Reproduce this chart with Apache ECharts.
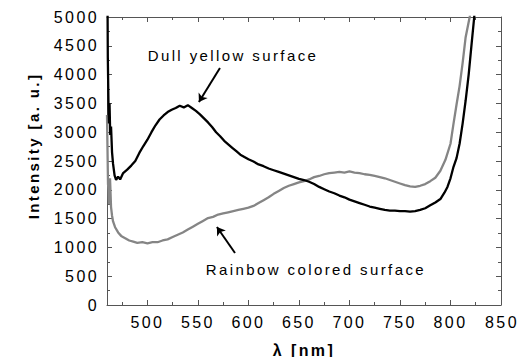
<!DOCTYPE html>
<html>
<head>
<meta charset="utf-8">
<script src="https://cdn.jsdelivr.net/npm/echarts@6/dist/echarts.min.js"></script>
<style>
html,body{margin:0;padding:0;background:#fff;}
#chart{width:521px;height:357px;}
#chart svg text{letter-spacing:2.4px;}
</style>
</head>
<body>
<div id="chart"></div>
<script>
// Wavelength (nm) / intensity (a.u.) pairs
const dullYellowLambda = [460.3,460.8,461.5,462,462.5,463.2,464,465,466,467.5,469,471,473,476,480,484,488,492,496,500,504,508,512,516,520,524,528,532,536,540,544,548,552,556,560,564,568,572,576,580,584,588,592,596,600,605,610,615,620,625,630,635,640,645,650,655,660,665,670,675,680,685,690,695,700,705,710,715,720,725,730,735,740,745,750,755,760,765,770,775,780,785,790,794,797,800,803,806,809,812,815,818,821,823.5,826];
const dullYellowIntensity = [6000,4300,3450,3150,3500,2950,3100,2650,2450,2250,2170,2230,2180,2290,2350,2420,2500,2640,2760,2870,3000,3120,3220,3290,3350,3390,3420,3460,3430,3470,3420,3370,3310,3240,3170,3090,3000,2930,2850,2790,2730,2670,2610,2570,2530,2490,2440,2410,2370,2340,2310,2280,2250,2220,2190,2170,2140,2100,2050,2010,1970,1940,1900,1870,1830,1800,1770,1740,1710,1690,1670,1650,1640,1640,1630,1630,1620,1630,1650,1680,1730,1780,1840,1950,2050,2200,2400,2550,2800,3150,3550,4000,4550,5000,5600];

const rainbowLambda = [460,460.5,461,461.5,462,463,464,465,466,468,471,474,478,482,486,490,495,500,505,510,515,520,525,530,535,540,545,550,555,560,565,570,575,580,585,590,595,600,605,610,615,620,625,630,635,640,645,650,655,660,665,670,675,680,685,690,695,700,705,710,715,720,725,730,735,740,745,750,755,760,765,770,775,780,785,790,795,800,803,806,809,812,815,819,823];
const rainbowIntensity = [3300,2700,2100,2000,1750,2200,1700,1550,1450,1350,1260,1200,1160,1120,1100,1080,1090,1070,1090,1090,1120,1140,1180,1220,1260,1310,1360,1410,1460,1510,1530,1570,1590,1610,1630,1650,1670,1690,1720,1770,1820,1870,1930,1980,2030,2070,2100,2130,2150,2180,2220,2240,2270,2290,2300,2310,2300,2320,2300,2290,2270,2260,2240,2220,2200,2170,2140,2110,2080,2060,2050,2070,2100,2150,2210,2330,2520,2800,3150,3480,3800,4200,4650,5000,5600];

const xMajorTicks = [500,550,600,650,700,750,800,850];
const xMinorTicks = [475,525,575,625,675,725,775,825];

const labelDull = 'Dull yellow surface';
const labelRainbow = 'Rainbow colored surface';
const labelDullPos = [584.7, 4340];
const labelRainbowPos = [666.8, 616];
const arrowDull = [[571.8, 4115], [551, 3524]];
const arrowRainbow = [[586.7, 903], [568.8, 1354]];

const zip = (xs, ys) => xs.map((x, i) => [x, ys[i]]);

const W = 521, H = 357;
const G = {left: 107, right: 20, top: 17, bottom: 52};
const xMin = 460;
const xMax = xMajorTicks[xMajorTicks.length - 1];
const xLabelValues = xMajorTicks.filter(v => v < xMax);

const chart = echarts.init(document.getElementById('chart'), null, {renderer: 'svg', width: W, height: H});
const font = '"Liberation Sans", Arial, sans-serif';
const axisColor = '#555';

function xAx(pos, ticks, len, showLine, showLabel, extra) {
  return Object.assign({
    type: 'value', min: xMin, max: xMax, position: pos,
    axisLine: {show: showLine, onZero: false, lineStyle: {color: axisColor, width: 1}},
    axisTick: {show: true, inside: true, length: len, customValues: ticks, lineStyle: {color: axisColor}},
    axisLabel: showLabel ? {show: true, customValues: xLabelValues, hideOverlap: false, formatter: v => String(v), fontSize: 16, color: '#000', fontFamily: font, margin: 9} : {show: false},
    splitLine: {show: false}
  }, extra || {});
}
function yAx(pos, showLabel, extra) {
  return Object.assign({
    type: 'value', min: 0, max: 5000, interval: 500, position: pos,
    axisLine: {show: true, onZero: false, lineStyle: {color: axisColor, width: 1}},
    axisTick: {show: true, inside: true, length: 5, lineStyle: {color: axisColor}},
    minorTick: {show: true, splitNumber: 2, length: 3, lineStyle: {color: axisColor}},
    axisLabel: showLabel ? {show: true, showMaxLabel: true, showMinLabel: true, formatter: v => String(v), fontSize: 16, color: '#000', fontFamily: font, margin: 8} : {show: false},
    splitLine: {show: false}, minorSplitLine: {show: false}
  }, extra || {});
}

// pixel x of the last x tick, derived from the grid extent and axis range
const plotW = W - G.left - G.right;
const lastTickX = G.left + (xMax - xMin) / (xMax - xMin) * plotW;
const axisY = H - G.bottom;

chart.setOption({
  animation: false,
  backgroundColor: '#fff',
  grid: Object.assign({containLabel: false, outerBoundsMode: 'none'}, G),
  xAxis: [
    xAx('bottom', xMajorTicks, 5, true, true, {
      name: 'λ [nm]', nameLocation: 'middle', nameGap: 37,
      nameTextStyle: {fontSize: 16, fontWeight: 'bold', color: '#000', fontFamily: font}
    }),
    xAx('bottom', xMinorTicks, 3, false, false),
    xAx('top', xMajorTicks, 5, true, false),
    xAx('top', xMinorTicks, 3, false, false)
  ],
  yAxis: [
    yAx('left', true, {
      name: 'Intensity [a. u.]', nameLocation: 'middle', nameGap: 66,
      nameTextStyle: {fontSize: 15, fontWeight: 'bold', color: '#000', fontFamily: font, padding: [0, 0, 0, 30]}
    }),
    yAx('right', false)
  ],
  graphic: [{
    type: 'text', silent: true, z: 100, zlevel: 0,
    x: lastTickX + 1, y: axisY + 9,
    style: {text: String(xMax), textAlign: 'center', textVerticalAlign: 'top', align: 'center', verticalAlign: 'top',
            fontSize: 16, fontFamily: font, fill: '#000', font: '16px ' + font}
  }],
  series: [
    {
      name: labelRainbow, type: 'line', xAxisIndex: 0, yAxisIndex: 0,
      data: zip(rainbowLambda, rainbowIntensity), showSymbol: false, clip: true,
      lineStyle: {color: '#858585', width: 2.3}, itemStyle: {color: '#858585'},
      markLine: {
        silent: true, symbol: ['none', 'arrow'], symbolSize: 8,
        lineStyle: {color: '#000', width: 2, type: 'solid'}, label: {show: false},
        data: [[{coord: arrowRainbow[0]}, {coord: arrowRainbow[1]}]]
      },
      markPoint: {
        silent: true, symbol: 'rect', symbolSize: 1, itemStyle: {color: 'rgba(0,0,0,0)'},
        label: {show: true, position: 'inside', formatter: '{b}', fontSize: 15, color: '#000', fontFamily: font},
        data: [{name: labelRainbow, coord: labelRainbowPos}]
      }
    },
    {
      name: labelDull, type: 'line', xAxisIndex: 0, yAxisIndex: 0,
      data: zip(dullYellowLambda, dullYellowIntensity), showSymbol: false, clip: true,
      lineStyle: {color: '#000', width: 2.3}, itemStyle: {color: '#000'},
      markLine: {
        silent: true, symbol: ['none', 'arrow'], symbolSize: 8,
        lineStyle: {color: '#000', width: 2, type: 'solid'}, label: {show: false},
        data: [[{coord: arrowDull[0]}, {coord: arrowDull[1]}]]
      },
      markPoint: {
        silent: true, symbol: 'rect', symbolSize: 1, itemStyle: {color: 'rgba(0,0,0,0)'},
        label: {show: true, position: 'inside', formatter: '{b}', fontSize: 15, color: '#000', fontFamily: font},
        data: [{name: labelDull, coord: labelDullPos}]
      }
    }
  ]
});
</script>
</body>
</html>
